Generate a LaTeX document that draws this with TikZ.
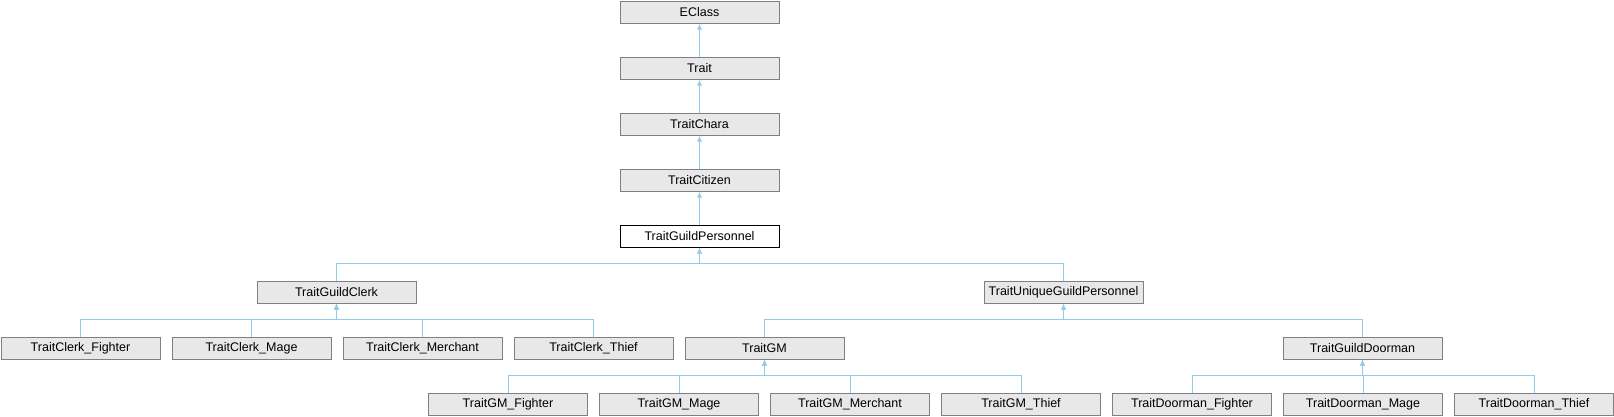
\documentclass[tikz,border=0pt]{standalone}
\usepackage{fontspec}
\setmainfont{Liberation Sans}
\usepackage{tikz}
\usetikzlibrary{calc}
\usetikzlibrary{arrows.meta}

\definecolor{boxfill}{HTML}{E8E8E8}
\definecolor{boxline}{HTML}{808080}
\definecolor{inhline}{HTML}{95CBEA}

\begin{document}
\begin{tikzpicture}[x=1pt,y=-1pt,
    cls/.style={draw=boxline,fill=boxfill,line width=1pt,minimum width=159pt,
        minimum height=22pt,inner sep=0pt,font=\fontsize{12.5}{15}\selectfont},
    curcls/.style={cls,draw=black,fill=white},
    inh/.style={draw=inhline,line width=1pt,-{Latex[length=6pt,width=5pt]}}]
                \useasboundingbox (0,0) rectangle (1614,416);

                \node[cls] (EClass) at (699.5,12) {EClass};
                \node[cls] (Trait) at (699.5,68) {Trait};
                \node[cls] (TraitChara) at (699.5,124) {TraitChara};
                \node[cls] (TraitCitizen) at (699.5,180) {TraitCitizen};
                \node[curcls] (TraitGuildPersonnel) at (699.5,236) {TraitGuildPersonnel};

                \node[cls] (TraitGuildClerk) at (336.5,292) {TraitGuildClerk};
                \node[cls] (TraitUniqueGuildPersonnel) at (1063.5,292) {TraitUniqueGuildPersonnel};

                \node[cls] (TraitClerkFighter) at (80.5,348) {TraitClerk\_Fighter};
                \node[cls] (TraitClerkMage) at (251.5,348) {TraitClerk\_Mage};
                \node[cls] (TraitClerkMerchant) at (422.5,348) {TraitClerk\_Merchant};
                \node[cls] (TraitClerkThief) at (593.5,348) {TraitClerk\_Thief};
                \node[cls] (TraitGM) at (764.5,348) {TraitGM};
                \node[cls] (TraitGuildDoorman) at (1362.5,348) {TraitGuildDoorman};

                \node[cls] (TraitGMFighter) at (508,404) {TraitGM\_Fighter};
                \node[cls] (TraitGMMage) at (679,404) {TraitGM\_Mage};
                \node[cls] (TraitGMMerchant) at (850,404) {TraitGM\_Merchant};
                \node[cls] (TraitGMThief) at (1021,404) {TraitGM\_Thief};
                \node[cls] (TraitDoormanFighter) at (1192,404) {TraitDoorman\_Fighter};
                \node[cls] (TraitDoormanMage) at (1363,404) {TraitDoorman\_Mage};
                \node[cls] (TraitDoormanThief) at (1534,404) {TraitDoorman\_Thief};

                \draw[inh] (Trait.north) -- (EClass.south);
                \draw[inh] (TraitChara.north) -- (Trait.south);
                \draw[inh] (TraitCitizen.north) -- (TraitChara.south);
                \draw[inh] (TraitGuildPersonnel.north) -- (TraitCitizen.south);

                \draw[inh] (TraitGuildClerk.north) -- ++(0,-17) -| (TraitGuildPersonnel.south);
                \draw[inh] (TraitUniqueGuildPersonnel.north) -- ++(0,-17) -| (TraitGuildPersonnel.south);

                \draw[inh] (TraitClerkFighter.north) -- ++(0,-17) -| (TraitGuildClerk.south);
                \draw[inh] (TraitClerkMage.north) -- ++(0,-17) -| (TraitGuildClerk.south);
                \draw[inh] (TraitClerkMerchant.north) -- ++(0,-17) -| (TraitGuildClerk.south);
                \draw[inh] (TraitClerkThief.north) -- ++(0,-17) -| (TraitGuildClerk.south);

                \draw[inh] (TraitGM.north) -- ++(0,-17) -| (TraitUniqueGuildPersonnel.south);
                \draw[inh] (TraitGuildDoorman.north) -- ++(0,-17) -| (TraitUniqueGuildPersonnel.south);

                \draw[inh] (TraitGMFighter.north) -- ++(0,-17) -| (TraitGM.south);
                \draw[inh] (TraitGMMage.north) -- ++(0,-17) -| (TraitGM.south);
                \draw[inh] (TraitGMMerchant.north) -- ++(0,-17) -| (TraitGM.south);
                \draw[inh] (TraitGMThief.north) -- ++(0,-17) -| (TraitGM.south);

                \draw[inh] (TraitDoormanFighter.north) -- ++(0,-17) -| (TraitGuildDoorman.south);
                \draw[inh] (TraitDoormanMage.north) -- ++(0,-17) -| (TraitGuildDoorman.south);
                \draw[inh] (TraitDoormanThief.north) -- ++(0,-17) -| (TraitGuildDoorman.south);
            \end{tikzpicture}
\end{document}
